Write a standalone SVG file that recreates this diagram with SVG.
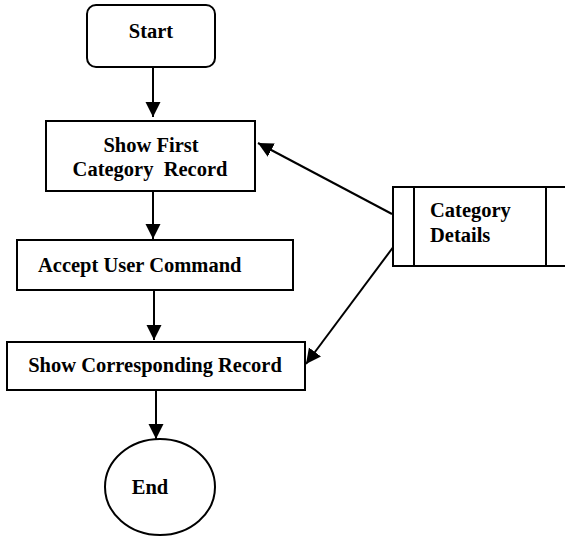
<svg xmlns="http://www.w3.org/2000/svg" width="565" height="539" viewBox="0 0 565 539">
<defs>
<marker id="arr" markerUnits="userSpaceOnUse" markerWidth="16" markerHeight="16" viewBox="0 0 16 16" refX="15" refY="8" orient="auto">
<path d="M0,0.5 L15,8 L0,15.5 Z" fill="#000"/>
</marker>
<style>
.box{fill:#fff;stroke:#000;stroke-width:2}
.t{font-family:"Liberation Serif","Times New Roman",serif;font-weight:bold;font-size:20.5px;fill:#000}
.c{fill:none;stroke:#000;stroke-width:2;marker-end:url(#arr)}
</style>
</defs>
<rect width="565" height="539" fill="#fff"/>
<g id="connectors">
<line class="c" x1="153" y1="67" x2="153" y2="117"/>
<line class="c" x1="153" y1="191" x2="153" y2="239"/>
<line class="c" x1="154" y1="290" x2="154" y2="340"/>
<line class="c" x1="156" y1="390" x2="156" y2="439"/>
<line class="c" x1="392" y1="214" x2="258" y2="143"/>
<line class="c" x1="397" y1="242" x2="306" y2="364"/>
</g>
<g id="start">
<rect class="box" x="87" y="5" width="128" height="62" rx="9"/>
<text class="t" x="151" y="38" text-anchor="middle">Start</text>
</g>
<g id="show-first">
<rect class="box" x="46" y="121" width="209" height="70"/>
<text class="t" x="151" y="152" text-anchor="middle">Show First</text>
<text class="t" x="150" y="176" text-anchor="middle" xml:space="preserve">Category  Record</text>
</g>
<g id="accept">
<rect class="box" x="17" y="240" width="276" height="50"/>
<text class="t" x="38" y="272">Accept User Command</text>
</g>
<g id="show-corresponding">
<rect class="box" x="7" y="342" width="298" height="48"/>
<text class="t" x="155" y="372" text-anchor="middle">Show Corresponding Record</text>
</g>
<g id="end">
<ellipse class="box" cx="160" cy="487" rx="55" ry="48"/>
<text class="t" x="150" y="494" text-anchor="middle">End</text>
</g>
<g id="category-details">
<path d="M567,187 H393 V266 H567" fill="#fff" stroke="#000" stroke-width="2"/>
<line x1="414" y1="187" x2="414" y2="266" stroke="#000" stroke-width="2"/>
<line x1="546" y1="187" x2="546" y2="266" stroke="#000" stroke-width="2"/>
<text class="t" x="430" y="217">Category</text>
<text class="t" x="430" y="242">Details</text>
</g>
</svg>
